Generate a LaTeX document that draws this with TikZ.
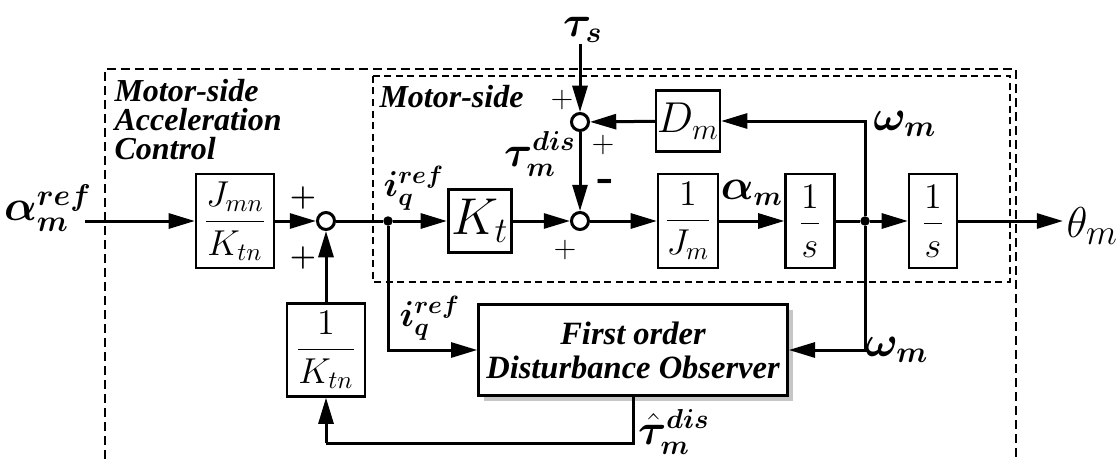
\documentclass[tikz,border=0pt]{standalone}
\usepackage{amsmath}
\usepackage{fontspec}
\usepackage{bm}
\newfontfamily\tnr{Liberation Serif}
\usetikzlibrary{arrows.meta,shadows}
\begin{document}
\begin{tikzpicture}[x=0.4pt,y=-0.4pt,
  sig/.style={line width=1.2pt},
  arr/.style={sig,-{Triangle[length=10.5pt,width=6pt]}},
  blk/.style={draw,line width=0.9pt,fill=white,inner sep=0pt,font=\fontsize{14}{16}\selectfont},
  sumc/.style={circle,draw,line width=1.2pt,fill=white,minimum size=6.8pt,inner sep=0pt},
  dotc/.style={circle,fill,minimum size=3.8pt,inner sep=0pt},
  lbl/.style={inner sep=0pt},
  ttl/.style={inner sep=0pt,font=\tnr\bfseries\itshape\fontsize{12.8}{11.6}\selectfont,align=left},
  sgnb/.style={inner sep=0pt,font=\bfseries\fontsize{12}{14}\selectfont},
  sgnt/.style={inner sep=0pt,font=\fontsize{12}{14}\selectfont}
]
\useasboundingbox (0,0) rectangle (1117,459);
% dashed boxes
\draw[line width=1.1pt,dash pattern=on 3.6pt off 2pt] (105,459) -- (105,69) -- (1016,69) -- (1016,459);
\draw[line width=0.7pt,dash pattern=on 2.8pt off 1.8pt] (373,76) rectangle (1010,282);
% titles
\node[ttl,anchor=north west] (T1) at (114,79) {Motor-side\\Acceleration\\Control};
\node[ttl,anchor=north west] (T2) at (379,85) {Motor-side};
% blocks
\coordinate (in) at (85,221);
\node[blk,minimum width=31.2pt,minimum height=37.6pt] (B1) at (235,221) {$\dfrac{J_{mn}}{K_{tn}}$};
\node[sumc] (S1) at (326,221) {};
\node[dotc] (P1) at (388,221) {};
\node[blk,line width=1.3pt,minimum width=25.2pt,minimum height=25.2pt,font=\fontsize{20}{22}\selectfont] (Kt) at (480,221) {$K_t$};
\node[sumc] (S2) at (580,221) {};
\node[blk,minimum width=24pt,minimum height=37.6pt] (Jm) at (688,221) {$\dfrac{1}{J_m}$};
\node[blk,minimum width=19.6pt,minimum height=37.6pt] (I1) at (810,221) {$\dfrac{1}{s}$};
\node[dotc] (P2) at (865,221) {};
\node[blk,minimum width=19.2pt,minimum height=37.6pt] (I2) at (933,221) {$\dfrac{1}{s}$};
\coordinate (out) at (1063,221);
\node[sumc] (S3) at (580,122) {};
\node[blk,minimum width=25.6pt,minimum height=24.4pt,font=\fontsize{17.5}{19}\selectfont] (Dm) at (688,121) {$D_m$};
\coordinate (ts0) at (580,44);
\node[blk,minimum width=31.2pt,minimum height=37.2pt] (Ktn) at (326,350) {$\dfrac{1}{K_{tn}}$};
\node[blk,line width=1pt,minimum width=123.6pt,minimum height=36.4pt,align=center,
  drop shadow={shadow xshift=2pt,shadow yshift=-2pt,opacity=0.45},
  font=\tnr\bfseries\itshape\fontsize{13}{13.6}\selectfont] (DOB) at (633,350) {First order\\Disturbance Observer};
\coordinate (fb) at (326,443);
% connectors
\draw[arr] (in) -- (B1);
\draw[arr] (B1) -- (S1);
\draw[sig] (S1) -- (P1);
\draw[arr] (P1) -- (Kt);
\draw[arr] (Kt) -- (S2);
\draw[arr] (S2) -- (Jm);
\draw[arr] (Jm) -- (I1);
\draw[sig] (I1) -- (P2);
\draw[arr] (P2) -- (I2);
\draw[arr] (I2) -- (out);
\draw[arr] (ts0) -- (S3);
\draw[arr] (S3) -- (S2);
\draw[arr] (P2) |- (Dm.east);
\draw[arr] (Dm) -- (S3);
\draw[arr] (P1) |- (DOB.west);
\draw[arr] (P2) |- (DOB.east);
\draw[sig] (DOB.south) |- (fb);
\draw[arr] (fb) -- (Ktn);
\draw[arr] (Ktn) -- (S1);
% labels
\node[lbl,font=\fontsize{17}{19}\selectfont] (Lain) at (48,208) {$\bm{\alpha_m^{ref}}$};
\node[lbl,font=\fontsize{14}{16}\selectfont] (Liq1) at (414,188) {$\bm{i_q^{ref}}$};
\node[lbl,font=\fontsize{14}{16}\selectfont] (Liq2) at (430,318) {$\bm{i_q^{ref}}$};
\node[lbl,font=\fontsize{18}{20}\selectfont] (Lts) at (583,30) {$\bm{\tau_s}$};
\node[lbl,font=\fontsize{16}{18}\selectfont] (Ltd) at (540,154) {$\bm{\tau_m^{dis}}$};
\node[lbl,font=\fontsize{16}{18}\selectfont] (Lam) at (752,193) {$\bm{\alpha_m}$};
\node[lbl,font=\fontsize{17}{19}\selectfont] (Lw1) at (905,124) {$\bm{\omega_m}$};
\node[lbl,font=\fontsize{17}{19}\selectfont] (Lw2) at (897,350) {$\bm{\omega_m}$};
\node[lbl,font=\fontsize{19}{21}\selectfont,anchor=west] (Lth) at (1066,226) {$\theta_m$};
\node[lbl,font=\fontsize{16}{18}\selectfont] (Lhat) at (674,432) {$\bm{\hat{\tau}_m^{dis}}$};
% signs
\node[sgnb] (sg1) at (303,198) {+};
\node[sgnb] (sg2) at (303,258) {+};
\node[sgnt] (sg3) at (562,100) {+};
\node[sgnt] (sg4) at (603,145) {+};
\node[sgnb,font=\bfseries\fontsize{18}{20}\selectfont] (sg5) at (606,185) {-};
\node[sgnt] (sg6) at (565,250) {+};
\end{tikzpicture}
\end{document}
